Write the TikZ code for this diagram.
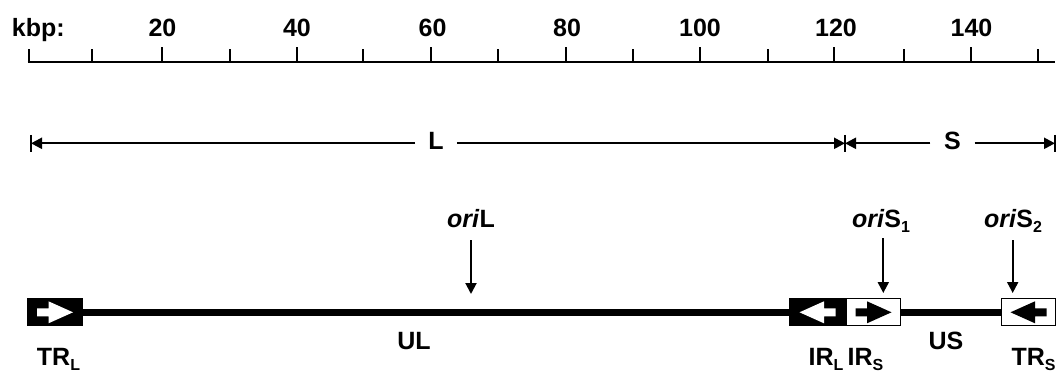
\documentclass[tikz,border=0pt]{standalone}
\usepackage{fontspec}
\setmainfont{Liberation Sans}
\usetikzlibrary{arrows.meta}
\newcommand{\lowsub}[1]{\raisebox{-5pt}{\fontsize{16}{16}\selectfont #1}}
\newcommand{\blockarrow}[3]{%
  \fill[#3, shift={(#1.center)}, xscale=#2]
    (-18,-4) -- (-6.5,-4) -- (-6.5,-11) -- (18,0) -- (-6.5,11) -- (-6.5,4) -- (-18,4) -- cycle;}
\tikzset{
  lab/.style={font=\fontsize{25}{29}\selectfont\bfseries, inner sep=0pt},
  ruler/.style={line width=2.4pt},
  tick/.style={line width=2pt},
  span/.style={line width=2.2pt, -{Triangle[length=11pt,width=11pt]}},
  endbar/.style={line width=2pt},
  pointer/.style={line width=2pt, -{Triangle[length=11pt,width=11pt]}},
  genome/.style={line width=7.5pt},
  darkbox/.style={rectangle, fill=black, minimum height=28pt, inner sep=0pt},
  lightbox/.style={rectangle, draw=black, line width=1.3pt, fill=white, minimum height=27pt, inner sep=0pt}
}
\begin{document}
\begin{tikzpicture}[x=1pt, y=-1pt]
  \useasboundingbox (0,0) rectangle (1061,372);
  \draw
    (11.7,36.5) node[lab, anchor=base west] (kbp){kbp:}
    (162.5,36.5) node[lab, anchor=base] (n20){20}
    (297,36.5) node[lab, anchor=base] (n40){40}
    (432.5,36.5) node[lab, anchor=base] (n60){60}
    (567,36.5) node[lab, anchor=base] (n80){80}
    (700,36.5) node[lab, anchor=base] (n100){100}
    (836,36.5) node[lab, anchor=base] (n120){120}
    (971.5,36.5) node[lab, anchor=base] (n140){140};
  \draw[ruler] (27.5,61.7) -- (1055,61.7);
  \draw[tick]
    (28.5,61.7) -- ++(0,-13)
    (92,61.7) -- ++(0,-13)
    (162,61.7) -- ++(0,-15)
    (229.5,61.7) -- ++(0,-13)
    (296.7,61.7) -- ++(0,-15)
    (363.3,61.7) -- ++(0,-13)
    (431,61.7) -- ++(0,-15)
    (498.3,61.7) -- ++(0,-13)
    (565.7,61.7) -- ++(0,-15)
    (632.7,61.7) -- ++(0,-13)
    (700,61.7) -- ++(0,-15)
    (767.7,61.7) -- ++(0,-13)
    (834.3,61.7) -- ++(0,-15)
    (904,61.7) -- ++(0,-13)
    (971,61.7) -- ++(0,-15)
    (1038,61.7) -- ++(0,-13);
  \coordinate (lstart) at (31,143.3);
  \coordinate (lend) at (845,143.3);
  \coordinate (send) at (1055,143.3);
  \node[lab, inner xsep=13pt] (L) at (436,141.2) {L};
  \node[lab, inner xsep=13.5pt] (S) at (952.5,141.2) {S};
  \draw[span] (L.west |- lstart) -- (lstart);
  \draw[span] (L.east |- lend) -- (lend);
  \draw[span] (S.west |- lend) -- (lend);
  \draw[span] (S.east |- send) -- (send);
  \draw[endbar]
    (lstart) ++(0,-8.5) -- ++(0,17)
    (lend) ++(0,-8.5) -- ++(0,17)
    (send) ++(0,-8.5) -- ++(0,17);
  \node[darkbox, minimum width=56pt] (trl) at (55,312.3) {};
  \node[darkbox, minimum width=57pt] (irl) at (817.5,312.3) {};
  \node[lightbox, minimum width=54pt] (irs) at (873.5,312.3) {};
  \node[lightbox, minimum width=54pt] (trs) at (1028.5,312.3) {};
  \draw[genome] (trl.east) -- (irl.west);
  \draw[genome] (irs.east) -- (trs.west);
  \blockarrow{trl}{1}{white}
  \blockarrow{irl}{-1}{white}
  \blockarrow{irs}{1}{black}
  \blockarrow{trs}{-1}{black}
  \node[lab, anchor=base] (oriL) at (471,227) {\textit{ori}L};
  \node[lab, anchor=base] (oriS1) at (881,227) {\textit{ori}S\lowsub{1}};
  \node[lab, anchor=base] (oriS2) at (1013,227) {\textit{ori}S\lowsub{2}};
  \coordinate (oriLtip) at (471,294);
  \coordinate (oriS1tip) at (883.3,293);
  \coordinate (oriS2tip) at (1012.7,293);
  \draw[pointer, shorten <=13pt] (oriL.base -| oriLtip) -- (oriLtip);
  \draw[pointer, shorten <=11pt] (oriS1.base -| oriS1tip) -- (oriS1tip);
  \draw[pointer, shorten <=13pt] (oriS2.base -| oriS2tip) -- (oriS2tip);
  \draw
    (58.5,365.5) node[lab, anchor=base] (TRL){TR\lowsub{L}}
    (414,349.5) node[lab, anchor=base] (UL){UL}
    (826,365.5) node[lab, anchor=base] (IRL){IR\lowsub{L}}
    (865.5,365.5) node[lab, anchor=base] (IRS){IR\lowsub{S}}
    (946,349.5) node[lab, anchor=base] (US){US}
    (1033.5,365.5) node[lab, anchor=base] (TRS){TR\lowsub{S}};
\end{tikzpicture}
\end{document}
